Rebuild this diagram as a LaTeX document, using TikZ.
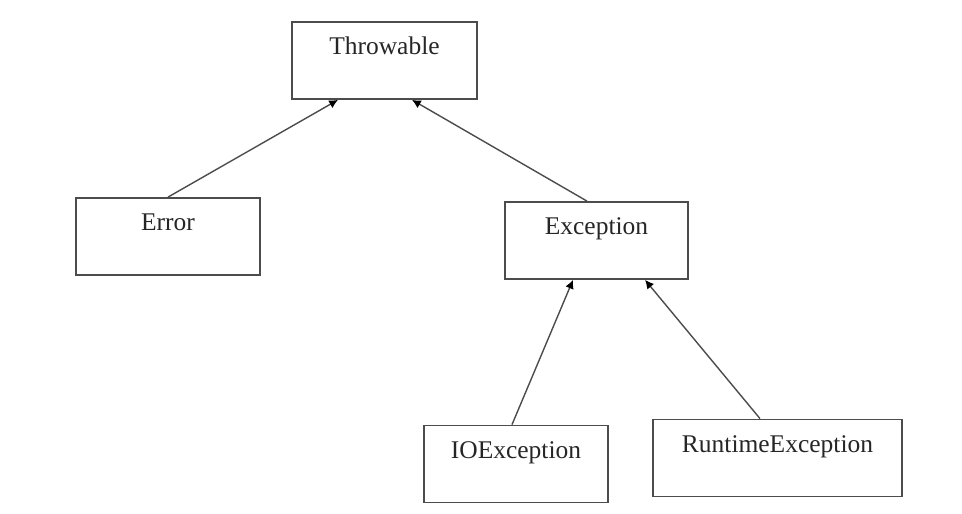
\documentclass[tikz,border=0pt]{standalone}
\usepackage{fontspec}
\setmainfont{Liberation Serif}
\usetikzlibrary{arrows.meta}

\tikzset{
  cls/.style={draw=black!70, line width=1pt, inner sep=0pt, minimum width=3.68cm,
    text height=0.66cm, text depth=0.88cm, font=\fontsize{14.5}{17}\selectfont, text=black!85},
  inherit/.style={draw=black!70, line width=0.8pt, -{Latex[length=5pt,width=5pt,black]}}
}

\begin{document}
\begin{tikzpicture}
\useasboundingbox (0,0) rectangle (19.24,10.28);

\node [cls, minimum width=3.7cm] (thr) at (7.69,9.07) {Throwable};
\node [cls] (err) at (3.36,5.55) {Error};
\node [cls, minimum width=3.66cm] (exc) at (11.93,5.47) {Exception};
\node [cls] (ioe) at (10.32,1.0) {IOException};
\node [cls, minimum width=4.98cm] (rte) at (15.55,1.12) {RuntimeException};

\draw [inherit] (err.north) -- ([xshift=-0.93cm]thr.south);
\draw [inherit] ([xshift=-0.19cm]exc.north) -- ([xshift=0.55cm]thr.south);
\draw [inherit] ([xshift=-0.08cm]ioe.north) -- ([xshift=-0.47cm]exc.south);
\draw [inherit] ([xshift=-0.35cm]rte.north) -- ([xshift=0.97cm]exc.south);

\end{tikzpicture}
\end{document}
